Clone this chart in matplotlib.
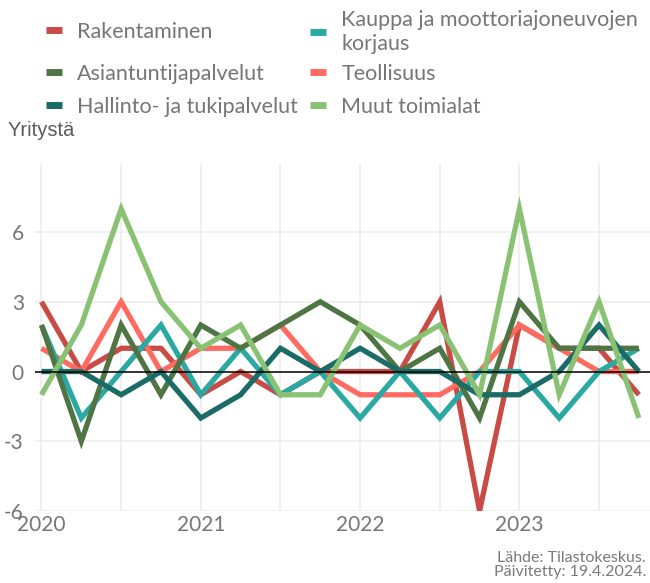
import matplotlib
matplotlib.use('Agg')
import matplotlib.pyplot as plt
from matplotlib.lines import Line2D
import numpy as np

# ---- data ----
quarters = ['2020Q1', '2020Q2', '2020Q3', '2020Q4',
            '2021Q1', '2021Q2', '2021Q3', '2021Q4',
            '2022Q1', '2022Q2', '2022Q3', '2022Q4',
            '2023Q1', '2023Q2', '2023Q3', '2023Q4']
year_ticks = [2020, 2021, 2022, 2023]
y_ticks = [-6, -3, 0, 3, 6]

rakentaminen = [3, 0, 1, 1, -1, 0, -1, 0, 0, 0, 3, -6, 2, 1, 1, -1]
kauppa = [2, -2, 0, 2, -1, 1, -1, 0, -2, 0, -2, 0, 0, -2, 0, 1]
asiantuntija = [2, -3, 2, -1, 2, 1, 2, 3, 2, 0, 1, -2, 3, 1, 1, 1]
teollisuus = [1, 0, 3, 0, 1, 1, 2, 0, -1, -1, -1, 0, 2, 1, 0, 0]
hallinto = [0, 0, -1, 0, -2, -1, 1, 0, 1, 0, 0, -1, -1, 0, 2, 0]
muut = [-1, 2, 7, 3, 1, 2, -1, -1, 2, 1, 2, -1, 7, -1, 3, -2]

labels = {
    'rak': 'Rakentaminen',
    'kau': 'Kauppa ja moottoriajoneuvojen\nkorjaus',
    'asi': 'Asiantuntijapalvelut',
    'teo': 'Teollisuus',
    'hal': 'Hallinto- ja tukipalvelut',
    'muu': 'Muut toimialat',
}
colors = {
    'rak': '#C84B45',
    'kau': '#2AA9A3',
    'asi': '#4F7545',
    'teo': '#FF6B61',
    'hal': '#1B6B67',
    'muu': '#8AC273',
}
series = {'rak': rakentaminen, 'kau': kauppa, 'asi': asiantuntija,
          'teo': teollisuus, 'hal': hallinto, 'muu': muut}

x = np.array([int(q[:4]) + (int(q[-1]) - 1) / 4 for q in quarters])

FONT = ['Lato', 'DejaVu Sans']
TXT = '#767676'

fig = plt.figure(figsize=(6.5, 5.83), dpi=100)
ax = fig.add_axes([35 / 650, 1 - 511 / 583, 1 - 35 / 650, (511 - 163) / 583])

draw_order = ['rak', 'teo', 'kau', 'asi', 'hal', 'muu']
for k in draw_order:
    ax.plot(x, series[k], color=colors[k], lw=3.8, solid_joinstyle='miter',
            solid_capstyle='butt', zorder=3)

ax.axhline(0, color='black', lw=1.1, zorder=5)

ax.set_xlim(2020 - 6.5 / 159.3, 2020 + 608.5 / 159.3)
ax.set_ylim(-6, 8.97)
ax.set_xticks(year_ticks)
ax.set_xticklabels([str(y) for y in year_ticks])
ax.set_xticks([y + 0.5 for y in year_ticks], minor=True)
ax.set_yticks(y_ticks)
ax.set_yticklabels([str(v) for v in y_ticks])
ax.grid(True, which='major', color='#ededed', lw=1.2, zorder=0)
ax.grid(True, which='minor', axis='x', color='#ededed', lw=1.2, zorder=0)
ax.tick_params(which='both', length=0)
ax.tick_params(axis='y', pad=8)
ax.tick_params(axis='x', pad=3)
for lab in ax.get_xticklabels() + ax.get_yticklabels():
    lab.set_fontfamily(FONT)
    lab.set_fontsize(15)
    lab.set_color(TXT)
for s in ax.spines.values():
    s.set_visible(False)
ax.set_axisbelow(True)

# legend: one small legend per entry, laid out in two columns
leg_pos = {
    'rak': (46, 32), 'kau': (310, 32),
    'asi': (46, 74), 'teo': (310, 74),
    'hal': (46, 107), 'muu': (310, 107),
}
for k, (px, py) in leg_pos.items():
    h = Line2D([], [], color=colors[k], lw=5, solid_capstyle='butt')
    fig.legend(handles=[h], labels=[labels[k]], loc='center left',
               bbox_to_anchor=(px / 650, 1 - py / 583), frameon=False,
               borderpad=0, borderaxespad=0, handlelength=0.75,
               handletextpad=0.7, labelspacing=0.1,
               prop={'family': FONT, 'size': 15.5},
               labelcolor=TXT)

fig.text(8 / 650, 1 - 130 / 583, 'Yritystä', ha='left', va='center',
         fontsize=14.5, color='#5a5a5a',
         family=['Liberation Sans Narrow', 'Liberation Sans', 'DejaVu Sans'])

fig.text(646 / 650, 1 - 565 / 583, 'Lähde: Tilastokeskus.\nPäivitetty: 19.4.2024.',
         ha='right', va='center', fontsize=11.5, color='#7a7a7a',
         family=FONT, linespacing=1.0)

fig.savefig('out.png', dpi=100)
